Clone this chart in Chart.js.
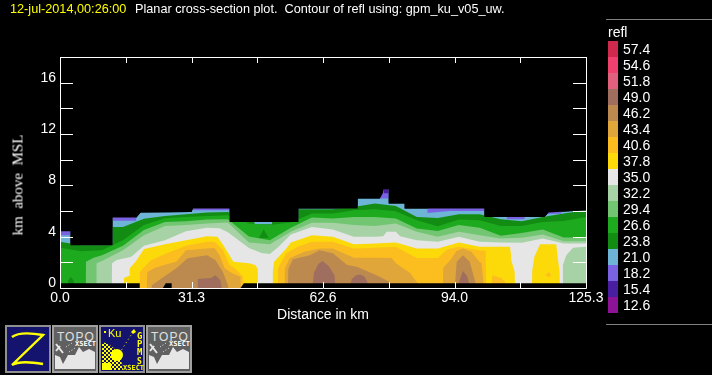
<!DOCTYPE html>
<html lang="en">
<head>
<meta charset="UTF-8" />
<title>Planar cross-section plot</title>
<script src="https://cdn.jsdelivr.net/npm/chart.js"></script>
<style>
  body { margin: 0; background: #000; width: 712px; height: 375px; overflow: hidden; position: relative; font-family: "Liberation Sans", Arial, sans-serif; color: #fff; }
  canvas { position: absolute; left: 0; top: 0; }
  .title { position: absolute; top: 1px; font-size: 12.7px; line-height: 16px; white-space: pre; }
  #date { left: 10px; color: #ffff00; }
  #desc { left: 135px; }
  .rule { position: absolute; left: 606px; width: 106px; height: 1px; background: #808080; }
  #legendName { position: absolute; left: 608px; top: 24px; font-size: 14px; line-height: 16px; }
  .swatch { position: absolute; left: 608px; width: 10px; height: 16px; }
  .level { position: absolute; left: 623px; font-size: 14px; line-height: 16px; }
  .icons { position: absolute; left: 0; top: 322px; }
  #yTitle { position: absolute; left: 18px; top: 184.5px; font: 15px "Liberation Serif", serif; color: #fff; white-space: pre; transform: translate(-50%, -50%) rotate(-90deg); }
</style>
</head>
<body>
<canvas id="xsect" width="712" height="375"></canvas>
<div class="title" id="date">12-jul-2014,00:26:00</div>
<div class="title" id="desc">Planar cross-section plot.  Contour of refl using: gpm_ku_v05_uw.</div>
<div id="yTitle">km  above  MSL</div>
<div class="rule" style="top:19px"></div>
<div class="rule" style="top:324px"></div>
<div id="legendName">refl</div>
<div id="legend"></div>

<svg class="icons" width="200" height="53" xmlns="http://www.w3.org/2000/svg">
  <defs>
    <pattern id="check" width="4" height="4" patternUnits="userSpaceOnUse">
      <rect width="2" height="2" fill="#ffff00"/><rect x="2" y="2" width="2" height="2" fill="#ffff00"/>
    </pattern>
    <g id="topo">
      <rect x="1" y="1" width="44" height="46" fill="#606060" stroke="#a0a0a0" stroke-width="2"/>
      <text x="5" y="15.5" font-size="12" letter-spacing="1" fill="#e0e0e0" font-family="Liberation Sans">TOPO</text>
      <text x="23" y="20.5" font-size="7" font-weight="bold" fill="#ffffff" font-family="DejaVu Sans Mono">XSECT</text>
      <path d="M3 44 V30 L8 32 L11 39 L16 30 L23 30 L27 22 L31 27 L37 24 L43 27 V44 Z" fill="#e6e6e6"/>
      <path d="M4 19 L11 28 M4 26 L8 21" stroke="#e6e6e6" stroke-width="2" fill="none"/>
      <path d="M14 22 L20 18 M17 27 L23 23" stroke="#e6e6e6" stroke-width="1" stroke-dasharray="1 2" fill="none"/>
    </g>
  </defs>
  <!-- Z button -->
  <rect x="6" y="4" width="44" height="46" fill="#14146e" stroke="#909090" stroke-width="2"/>
  <path d="M12 15 Q20 9 43 13 L12 43 Q20 38 43 42" fill="none" stroke="#ffff00" stroke-width="2.4"/>
  <use href="#topo" x="52" y="3"/>
  <!-- GPM button -->
  <rect x="100" y="4" width="44" height="46" fill="#14146e" stroke="#909090" stroke-width="2"/>
  <path d="M102 48 V20 Q120 24 123 48 Z" fill="url(#check)"/>
  <rect x="102" y="41" width="9" height="7" fill="#ffff00"/>
  <circle cx="117" cy="33" r="6" fill="#ffff00"/>
  <path d="M133 10 L117 35" stroke="#ffff00" stroke-width="1" stroke-dasharray="1 3"/>
  <path d="M131 10 l3 -3 l2 3 l-3 2 z" fill="#ffff00"/>
  <rect x="104" y="9" width="2" height="2" fill="#ffff00"/>
  <text x="108" y="15" font-size="11" fill="#ffff00" font-family="Liberation Sans">Ku</text>
  <text x="137" y="17" font-size="9" font-weight="bold" fill="#ffff00" font-family="DejaVu Sans Mono">G</text>
  <text x="137" y="25" font-size="9" font-weight="bold" fill="#ffff00" font-family="DejaVu Sans Mono">P</text>
  <text x="137" y="33" font-size="9" font-weight="bold" fill="#ffff00" font-family="DejaVu Sans Mono">M</text>
  <text x="137" y="42" font-size="8" font-weight="bold" fill="#ffff00" font-family="DejaVu Sans Mono">S</text>
  <text x="123" y="48" font-size="7" font-weight="bold" fill="#ffff00" font-family="DejaVu Sans Mono">XSECT</text>
  <use href="#topo" x="146" y="3"/>
</svg>

<script>
// legend, top to bottom
const levels = ['57.4','54.6','51.8','49.0','46.2','43.4','40.6','37.8','35.0','32.2','29.4','26.6','23.8','21.0','18.2','15.4','12.6'];
const levelColors = ['#cf2a4e','#f0406e','#e0607e','#a06e5e','#bc8a4e','#e0a63a','#fcbe1e','#fcda0a','#e6e6e6','#a6d2a6','#72c672','#1eaa1e','#128c12','#6eb4d6','#7a62e2','#4a1ea0','#8c1296'];

// axes
const xTicks = [0, 15.66, 31.33, 46.99, 62.65, 78.31, 93.98, 109.64, 125.3];
const xTickLabels = ['0.0', '', '31.3', '', '62.6', '', '94.0', '', '125.3'];
const yTickLabels = [0, 4, 8, 12, 16];

// echo outline, km
const topX = [0,2.5,2.5,12.5,12.5,18.2,19.2,26,31.3,31.7,40.4,40.4,56.8,56.8,70.9,70.9,76.2,76.9,77.1,78.3,78.3,82.1,82.1,101.1,101.1,115.4,116.4,125.3];
const topH = [4.43,4.43,3.34,3.34,5.49,5.49,5.88,5.9,5.93,6.19,6.19,5.15,5.15,6.19,6.19,6.97,6.97,7.38,7.69,7.69,6.58,6.58,6.19,6.19,5.54,5.54,5.88,6.06];
const floorX = [0,19,19,24.5,25.2,26.6,26.6,43,43.8,125.3];
const floorH = [.37,.37,0,0,.37,.37,0,0,.37,.37];

// contour heights, km. each level is the upper edge of the area at or above it
const x154 = [77.1,78.3];
const h154 = [7.38,7.38];
const x182 = [0,2.5,2.6,12.5,18.2,18.3,31.7,40.4,40.5,76,78.3,78.4,87.5,92.8,101.1,101.2,106.4,110.7,110.8,116.2,119.5];
const h182 = [4.12,4.12,null,5.24,5.24,null,6.06,6.06,null,6.97,6.97,null,5.85,6.0,6.0,null,5.36,5.36,null,5.79,5.79];
const x238 = [0,5,10,12.4,12.5,15,20,25,30,35,40,45,46.3,46.4,50.4,50.5,55,56.7,56.8,60,65,70,75,80,85,90,95,100,105,110,115,120,125.3];
const h238 = [3.60,3.34,3.34,3.34,4.76,4.76,5.40,5.62,5.75,5.88,5.93,5.15,5.15,4.97,4.97,5.15,5.15,5.15,6.14,6.14,6.14,6.32,6.58,6.39,5.54,5.46,5.75,5.75,5.36,5.21,5.54,5.80,6.06];
const x266 = [0,5,10,15,20,25,30,35,40,45,50,55,60,65,70,75,80,85,90,95,100,105,110,115,120,125.3];
const h266 = [3.13,2.87,2.95,3.73,4.90,5.44,5.54,5.62,5.67,5.03,4.90,5.11,5.80,5.80,6.06,6.14,5.98,5.28,4.82,5.34,5.28,4.83,4.83,5.15,5.23,5.54];
const x294 = [6.1,6.2,8,10,15,20,25,30,35,40,45,50,55,60,65,70,75,80,85,90,95,100,105,110,115,120,125.3];
const h294 = [0,2.04,2.35,2.56,3.29,4.51,5.15,5.21,5.34,5.36,4.01,3.73,4.69,5.49,5.42,5.54,5.54,5.42,4.64,4.45,4.90,4.69,4.08,4.29,4.55,3.94,3.94];
const x322 = [8.6,8.7,10,15,20,25,30,35,40,45,50,55,60,65,70,75,80,85,90,95,100,105,110,115,120,125.3];
const h322 = [0,1.92,2.10,2.94,4.12,4.84,4.90,5.03,5.11,3.55,3.40,4.38,5.08,5.08,4.90,4.84,5.03,4.38,3.99,4.38,4.12,3.86,3.91,4.17,3.65,3.65];
const x350 = [12.3,12.4,13.5,17,20,25,30,35,38,40,45,48,50,52,55,60,65,70,75,77,77.8,80,81,85,90,95,100,105,110,115,120,125.3];
const h350 = [0,1.92,2.18,2.43,3.3,3.73,4.43,4.69,4.66,4.35,3.11,2.72,2.64,3.19,4.17,4.76,4.56,3.99,3.99,4.04,4.39,4.39,4.04,3.73,3.60,3.99,3.60,3.55,3.52,3.86,3.47,3.46];
const x378 = [15.1,15.2,16.5,16.6,18,20,25,30,35,37.5,38.8,41.3,45,46.5,47.1,47.2,50.6,50.7,51,53.9,55,60,65,70,75,80,85,90,95,100,105,107.2,107.4,107.5,108.3,108.4,112.4,112.5,113,113.9,114.3,118.2,118.5,119,119.1];
const h378 = [0,.78,.95,1.53,2.04,3.03,3.4,3.73,4.04,3.99,3.39,2.04,1.92,1.79,1.5,0,0,1.27,2.04,3.08,3.55,4.12,3.99,3.40,3.47,3.55,3.08,3.08,3.55,3.21,3.21,3.21,2.7,2.18,1.27,0,0,1.4,2.43,3.08,3.40,3.40,2.56,1.27,0];
const x406 = [18.9,19,19.4,21.7,25.3,30,35,36.8,38.8,40.4,41.6,43.6,43.7,51.8,51.9,53.9,56.6,60,65,70,75,80,85,90,92,93,95,100,101.4,101.5,102.7,103,105,106,106.1];
const h406 = [0,1.2,1.40,2.18,2.69,3.29,3.60,3.60,2.98,1.79,1.53,.87,0,0,1.53,2.70,3.21,3.60,3.60,3.08,3.13,3.21,2.33,2.33,2.95,3.08,3.21,2.95,2.9,0,0,1.0,.8,.5,0];
const x434 = [20.6,20.8,22.5,25.2,27.7,30,35,36.8,38,39.2,41,43,43.1,53.5,53.6,54.7,58.2,61.8,65,70,75,79,80,83.4,86,91.2,91.3,93,94.4,96,98,100,100.4,101];
const h434 = [0,1.24,1.55,1.84,2.04,2.95,3.08,3.11,2.56,1.55,1.14,.88,0,0,1.53,2.31,2.82,3.08,3.08,2.35,2.35,2.33,1.92,1.17,0,0,1.6,2.18,2.87,3.08,2.82,2.0,1.94,0];
const x462 = [21.8,25,27.7,30.4,35,37,38.8,40,40.1,54.3,54.4,55.5,59.5,61.8,65,68.4,70.7,75.4,78.3,78.8,94,94.1,94.5,96,97.6,99,99.1];
const h462 = [.2,.93,1.53,2.31,2.56,2.18,1.24,.23,0,0,1.5,2.25,2.56,2.95,2.70,1.79,1.65,1.0,.5,0,0,.3,2.04,2.56,2.04,.39,0];
const x490 = [32.7,32.8,36,37,38.2,38.5,60.1,60.5,61.5,62.5,64,65.4,65.6,69,69.5,70.5,71.5,72.5,73.2,73.3,94.8,95,95.6,96,97,97.5,97.6];
const h490 = [0,.7,.78,1.0,.6,0,0,1.2,1.86,2.10,1.71,1.0,0,0,.7,1.0,1.06,.9,.5,0,0,.4,1.0,1.32,.9,.3,0];

// small areas lower or higher than their surroundings
const lowLeftX = [1.8,2,2.6,3.2,3.5];
const lowLeftH = [0,.6,.85,.6,0];
const lowValleyX = [47.4,48.5,49.7];
const lowValleyTop = [3.9,4.58,3.9];
const lowValleyBase = [3.9,3.89,3.9];
const lowRightX = [119.7,119.8,120.6,122.2,125.3];
const lowRightH = [0,1.79,2.56,3.13,3.21];
const spotX = [115.6,116.4,117];
const spotTop = [1.0,1.25,1.0];
const spotBase = [1.0,.85,1.0];

const pts = (xs, hs) => xs.map((x, i) => ({ x: x, y: hs[i] }));
const colorOf = name => levelColors[levels.indexOf(name)];
const band = (name, xs, hs, fill) => ({ label: name, data: pts(xs, hs), backgroundColor: colorOf(name), fill: fill || 'origin' });

// first dataset is painted last
const datasets = [
  { label: 'top', data: pts(topX, topH), backgroundColor: '#000', fill: 'end' },
  { label: 'floor', data: pts(floorX, floorH), backgroundColor: '#000', fill: 'origin' },
  band('40.6', spotX, spotTop, '+1'),
  { label: 'spot base', data: pts(spotX, spotBase), fill: false },
  band('49.0', x490, h490),
  band('46.2', x462, h462),
  band('43.4', x434, h434),
  band('40.6', x406, h406),
  band('37.8', x378, h378),
  band('32.2', lowRightX, lowRightH),
  band('35.0', x350, h350),
  band('32.2', x322, h322),
  band('29.4', x294, h294),
  band('23.8', lowValleyX, lowValleyTop, '+1'),
  { label: 'valley base', data: pts(lowValleyX, lowValleyBase), fill: false },
  band('23.8', lowLeftX, lowLeftH),
  band('26.6', x266, h266),
  band('23.8', x238, h238),
  band('15.4', x154, h154, 'end'),
  band('18.2', x182, h182, 'end'),
  band('21.0', topX, topH)
];

const tickMarks = {
  id: 'tickMarks',
  afterDatasetsDraw(chart) {
    const { ctx, chartArea: a, scales } = chart;
    ctx.save();
    ctx.strokeStyle = '#fff';
    ctx.lineWidth = 1;
    ctx.beginPath();
    ctx.rect(a.left + 0.5, a.top + 0.5, a.right - a.left, a.bottom - a.top);
    scales.x.ticks.forEach(t => {
      const px = Math.round(scales.x.getPixelForValue(t.value)) + 0.5;
      ctx.moveTo(px, a.top); ctx.lineTo(px, a.top + 6);
      ctx.moveTo(px, a.bottom); ctx.lineTo(px, a.bottom - 6);
    });
    scales.y.ticks.forEach(t => {
      const py = Math.round(scales.y.getPixelForValue(t.value)) + 0.5;
      ctx.moveTo(a.left, py); ctx.lineTo(a.left + 13, py);
      ctx.moveTo(a.right, py); ctx.lineTo(a.right - 13, py);
    });
    ctx.stroke();
    ctx.restore();
  }
};

new Chart(document.getElementById('xsect'), {
  type: 'line',
  data: { datasets: datasets },
  plugins: [tickMarks],
  options: {
    responsive: false,
    animation: false,
    events: [],
    layout: { padding: { top: 57, right: 126, bottom: 47, left: 0 } },
    datasets: { line: { borderWidth: 0, pointRadius: 0, tension: 0, spanGaps: false } },
    scales: {
      x: {
        type: 'linear', min: 0, max: 125.3,
        grid: { display: false, drawTicks: false }, border: { display: false },
        afterBuildTicks: s => { s.ticks = xTicks.map(v => ({ value: v })); },
        afterFit: s => { s.height = 40; },
        ticks: {
          color: '#fff', font: { size: 14, family: 'Liberation Sans' }, padding: 2,
          maxRotation: 0, autoSkip: false,
          callback: (v, i) => xTickLabels[i]
        },
        title: { display: true, text: 'Distance in km', color: '#fff', font: { size: 14, family: 'Liberation Sans' }, padding: { top: 0 } }
      },
      y: {
        min: 0, max: 18,
        grid: { display: false, drawTicks: false }, border: { display: false },
        afterFit: s => { s.width = 60; },
        ticks: {
          stepSize: 2, color: '#fff', font: { size: 14, family: 'Liberation Sans' }, padding: 4,
          labelOffset: -5, autoSkip: false, includeBounds: false,
          callback: v => yTickLabels.includes(v) ? String(v) : ''
        }
      }
    },
    plugins: { legend: { display: false }, tooltip: { enabled: false } }
  }
});

// colour key
const legend = document.getElementById('legend');
levels.forEach((name, i) => {
  const swatch = document.createElement('div');
  swatch.className = 'swatch';
  swatch.style.top = (41 + i * 16) + 'px';
  swatch.style.background = levelColors[i];
  const label = document.createElement('div');
  label.className = 'level';
  label.style.top = (41 + i * 16) + 'px';
  label.textContent = name;
  legend.append(swatch, label);
});
</script>
</body>
</html>
